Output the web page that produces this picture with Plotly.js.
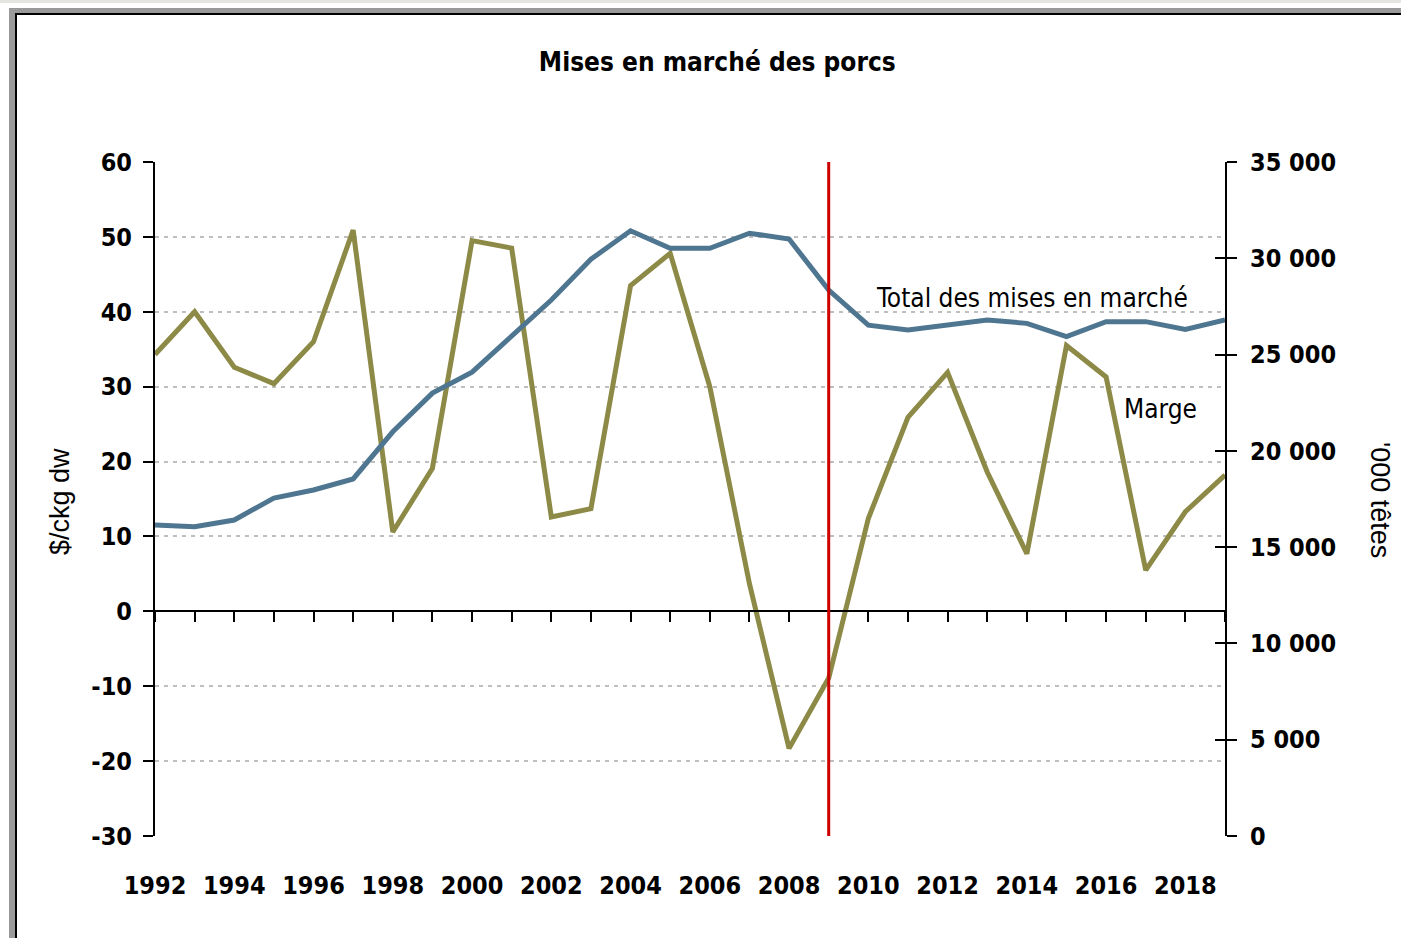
<!DOCTYPE html>
<html>
<head>
<meta charset="utf-8">
<script src="https://cdn.plot.ly/plotly-3.0.1.min.js"></script>
<style>
  html, body { margin:0; padding:0; width:1401px; height:938px; overflow:hidden; background:#ffffff; }
  #topstrip { position:absolute; left:0; top:0; width:1401px; height:3px; background:#e6e4de; }
  #frame { position:absolute; left:9px; top:8px; width:1420px; height:960px; background:#9a9a9a; }
  #inner { position:absolute; left:15px; top:13px; width:1420px; height:960px; background:#000; }
  #white { position:absolute; left:17px; top:15px; width:1420px; height:960px; background:#fff; }
  #chart { position:absolute; left:0; top:0; width:1401px; height:938px; }
</style>
</head>
<body>
<div id="topstrip"></div>
<div id="frame"></div>
<div id="inner"></div>
<div id="white"></div>
<div id="chart"></div>
<script>
const years = [1992,1993,1994,1995,1996,1997,1998,1999,2000,2001,2002,2003,2004,2005,2006,2007,2008,2009,2010,2011,2012,2013,2014,2015,2016,2017,2018,2019];
const marge = [34.3,40.0,32.6,30.4,36.0,50.9,10.6,19.1,49.5,48.5,12.6,13.7,43.5,47.8,30.0,3.7,-18.3,-8.9,12.4,25.9,31.9,18.6,7.7,35.5,31.3,5.5,13.3,18.2];
const totalMises = [16150,16060,16410,17550,17970,18540,20990,23000,24090,25960,27830,29950,31430,30520,30520,31300,31000,28350,26530,26280,26530,26800,26620,25930,26710,26710,26310,26800];

const xTickVals = [1992,1994,1996,1998,2000,2002,2004,2006,2008,2010,2012,2014,2016,2018];
const xTickText = ["1992","1994","1996","1998","2000","2002","2004","2006","2008","2010","2012","2014","2016","2018"];
const leftTickVals = [-30,-20,-10,0,10,20,30,40,50,60];
const leftTickText = ["-30","-20","-10","0","10","20","30","40","50","60"];
const rightTickVals = [0,5000,10000,15000,20000,25000,30000,35000];
const rightTickText = ["0","5 000","10 000","15 000","20 000","25 000","30 000","35 000"];

const crisisYear = 2009;
const labelTotal = {x: 2014.13, y: 41.9, text: "Total des mises en marché"};
const labelMarge = {x: 2017.38, y: 27.0, text: "Marge"};

const colMarge = "#8c8a46";
const colTotal = "#4f7690";
const condensed = "'DejaVu Sans Condensed', 'Liberation Sans', sans-serif";
const tickFont = {family: condensed, size: 25, color: "#000", weight: "bold"};

const traces = [
  {x: years, y: totalMises, type: "scatter", mode: "lines", yaxis: "y2", xaxis: "x",
   line: {color: colTotal, width: 5}, hoverinfo: "skip", name: "Total des mises en marché"},
  {x: years, y: marge, type: "scatter", mode: "lines", yaxis: "y", xaxis: "x",
   line: {color: colMarge, width: 5}, hoverinfo: "skip", name: "Marge"},
  {x: [years[0]], y: [null], type: "scatter", mode: "lines", xaxis: "x2", yaxis: "y", hoverinfo: "skip", showlegend: false},
  {x: [years[0]], y: [null], type: "scatter", mode: "lines", xaxis: "x", yaxis: "y3", hoverinfo: "skip", showlegend: false}
];

const xr = [1992, 2019];
const layout = {
  width: 1401, height: 938,
  margin: {l: 155, r: 176, t: 162, b: 102},
  paper_bgcolor: "rgba(0,0,0,0)", plot_bgcolor: "rgba(0,0,0,0)",
  showlegend: false,
  title: {text: "Mises en marché des porcs", font: {family: condensed, size: 26, color: "#000", weight: "bold"},
          xref: "container", yref: "container", x: 0.512, xanchor: "center", y: 1 - 62/938, yanchor: "middle"},
  xaxis: {range: xr, tickvals: xTickVals, ticktext: xTickText, showgrid: false, zeroline: false, showline: false,
          ticks: "", ticklabelstandoff: 32, tickfont: tickFont},
  xaxis2: {range: xr, overlaying: "x", anchor: "free", position: 1/3, dtick: 1, tick0: 1992, ticks: "outside", ticklen: 10,
           tickwidth: 2, tickcolor: "#000", showticklabels: false, showline: true, linecolor: "#000", linewidth: 2,
           showgrid: false, zeroline: false},
  yaxis: {range: [-30, 60], tickvals: leftTickVals, ticktext: leftTickText, ticks: "outside", ticklen: 10, tickwidth: 2,
          tickcolor: "#000", showline: true, linecolor: "#000", linewidth: 2, showgrid: true, gridcolor: "#bfbfbf",
          gridwidth: 2, griddash: "4px,5px", zeroline: false, tickfont: tickFont, ticklabelstandoff: 6},
  yaxis2: {range: [0, 35000], overlaying: "y", side: "right", tickvals: rightTickVals, ticktext: rightTickText,
           ticks: "outside", ticklen: 10, tickwidth: 2, tickcolor: "#000", showline: true, linecolor: "#000", linewidth: 2,
           showgrid: false, zeroline: false, tickfont: tickFont, ticklabelstandoff: 8},
  yaxis3: {range: [0, 35000], overlaying: "y", side: "right", tickvals: rightTickVals, showticklabels: false,
           ticks: "inside", ticklen: 10, tickwidth: 2, tickcolor: "#000", showline: false, showgrid: false, zeroline: false},
  shapes: [
    {type: "line", xref: "x", yref: "paper", x0: crisisYear, x1: crisisYear, y0: 0, y1: 1,
     line: {color: "#cc0000", width: 3}}
  ],
  annotations: [
    {x: labelTotal.x, y: labelTotal.y, xref: "x", yref: "y", text: labelTotal.text, showarrow: false,
     xanchor: "center", yanchor: "middle", font: {family: condensed, size: 26, color: "#000"}},
    {x: labelMarge.x, y: labelMarge.y, xref: "x", yref: "y", text: labelMarge.text, showarrow: false,
     xanchor: "center", yanchor: "middle", font: {family: condensed, size: 26, color: "#000"}},
    {x: 60/1401, y: 1 - 502/938, xref: "paper", yref: "paper", text: "$/ckg dw", showarrow: false, textangle: -90,
     xanchor: "center", yanchor: "middle", font: {family: "Liberation Sans", size: 27, color: "#000"}},
    {x: 1380/1401, y: 1 - 500/938, xref: "paper", yref: "paper", text: "'000 têtes", showarrow: false, textangle: 90,
     xanchor: "center", yanchor: "middle", font: {family: "Liberation Sans", size: 27, color: "#000"}}
  ]
};
// convert annotation paper positions (given relative to full page) to plot-area paper coords
(function(){
  const l = 155, r = 176, t = 162, b = 102, W = 1401, H = 938;
  const pw = W - l - r, ph = H - t - b;
  for (const a of layout.annotations) {
    if (a.xref === "paper") {
      const px = a.x * W, py = (1 - a.y) * H;
      a.x = (px - l) / pw;
      a.y = 1 - (py - t) / ph;
    }
  }
})();
Plotly.newPlot("chart", traces, layout, {staticPlot: true});
</script>
</body>
</html>
